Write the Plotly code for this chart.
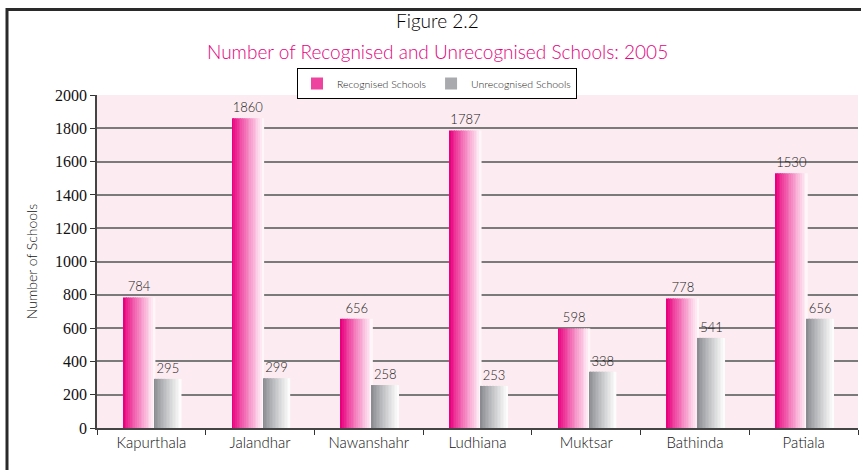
import plotly.graph_objects as go

districts = ["Kapurthala", "Jalandhar", "Nawanshahr", "Ludhiana", "Muktsar", "Bathinda", "Patiala"]
recognised = [784, 1860, 656, 1787, 598, 778, 1530]
unrecognised = [295, 299, 258, 253, 338, 541, 656]
y_ticks = [0, 200, 400, 600, 800, 1000, 1200, 1400, 1600, 1800, 2000]

W, H = 861, 470
L, R, T, B = 97, 3, 95, 42
pw = W - L - R
ph = H - T - B


def px_x(p):
    return (p - L) / pw


def px_y(p):
    return (H - B - p) / ph


def lerp(c1, c2, t):
    return "rgb(%d,%d,%d)" % tuple(round(a + (b - a) * t) for a, b in zip(c1, c2))


fig = go.Figure()

N = 18
series = [
    ("Recognised Schools", recognised, -0.258, 0.294, (232, 0, 125), (255, 246, 250)),
    ("Unrecognised Schools", unrecognised, 0.028, 0.248, (138, 140, 145), (252, 252, 252)),
]
for name, vals, off, wid, c1, c2 in series:
    sw = wid / N
    for i in range(N):
        t = i / (N - 1)
        fig.add_trace(go.Bar(
            x=districts, y=vals, name=name,
            offset=off + i * sw, width=sw * 1.08,
            marker=dict(color=lerp(c1, c2, t ** 0.9), line=dict(width=0)),
            showlegend=(i == 4), legendgroup=name, hoverinfo="skip",
        ))
    fig.add_trace(go.Bar(
        x=districts, y=vals, offset=off, width=wid,
        marker=dict(color="rgba(0,0,0,0)", line=dict(width=0)),
        text=[str(v) for v in vals], textposition="outside",
        textfont=dict(family="Lato", size=13, color="#222222", weight=300),
        cliponaxis=False, showlegend=False, hoverinfo="skip",
    ))

fig.update_layout(
    width=W, height=H,
    margin=dict(l=L, r=R, t=T, b=B, autoexpand=False),
    paper_bgcolor="white",
    plot_bgcolor="#FCEBF0",
    barmode="overlay",
    showlegend=True,
    legend=dict(
        orientation="h", x=px_x(437), xanchor="center", y=px_y(68), yanchor="top",
        bgcolor="white", bordercolor="black", borderwidth=1,
        font=dict(family="Lato", size=10.5, color="#222222", weight=300),
        tracegroupgap=0,
    ),
    xaxis=dict(
        type="category", tickson="boundaries", ticks="outside", ticklen=5,
        tickcolor="#333333", showline=True, linecolor="#444444", linewidth=1.5,
        showgrid=False,
        tickfont=dict(family="Lato", size=15, color="#111111", weight=300),
    ),
    yaxis=dict(
        range=[0, 2000], tickvals=y_ticks, ticks="outside", ticklen=5,
        tickcolor="#333333", showline=True, linecolor="#444444", linewidth=1.5,
        showgrid=True, gridcolor="#7a7a7a", gridwidth=1.5, zeroline=False,
        tickfont=dict(family="Liberation Serif, Times New Roman, serif", size=16, color="#111111"),
        title=dict(text="Number of Schools", standoff=14,
                   font=dict(family="Lato", size=14, color="#111111", weight=300)),
    ),
    annotations=[
        dict(text="Figure 2.2", xref="paper", yref="paper", x=px_x(437), y=px_y(20),
             xanchor="center", yanchor="middle", showarrow=False,
             font=dict(family="Lato", size=19, color="#000000", weight=300)),
        dict(text="Number of Recognised and Unrecognised Schools: 2005", xref="paper", yref="paper",
             x=px_x(437), y=px_y(51), xanchor="center", yanchor="middle", showarrow=False,
             font=dict(family="Lato", size=19, color="#E5007E", weight=300)),
    ],
    shapes=[
        dict(type="rect", xref="paper", yref="paper",
             x0=px_x(7), x1=px_x(875), y0=px_y(490), y1=px_y(9.5),
             line=dict(color="#2a2a2a", width=3), fillcolor="rgba(0,0,0,0)", layer="above"),
    ],
)

fig.write_html("out.html", config={"displayModeBar": False},
               post_script="document.body.style.margin='0';")
